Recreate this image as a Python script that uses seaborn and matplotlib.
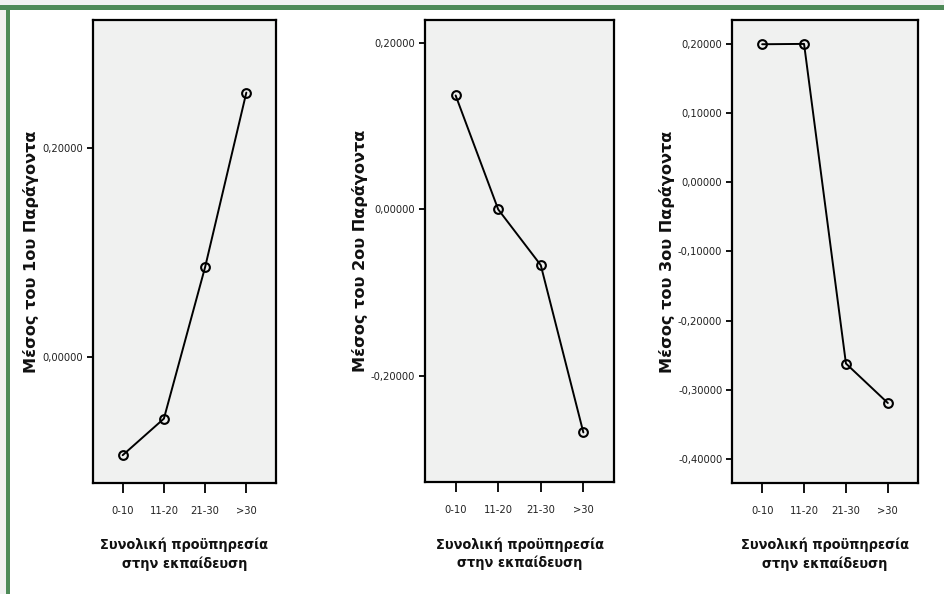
import matplotlib
matplotlib.use("Agg")
import matplotlib.pyplot as plt
from matplotlib.patches import Rectangle
from matplotlib.ticker import FixedLocator, FuncFormatter
import seaborn as sns
import pandas as pd

# Mean factor scores by total teaching experience
groups = ["0-10", "11-20", "21-30", ">30"]
factor1 = [-0.094, -0.059, 0.086, 0.253]
factor2 = [0.137, 0.000, -0.067, -0.268]
factor3 = [0.199, 0.1995, -0.262, -0.319]

ylabels = ["Μέσος του 1ου Παράγοντα", "Μέσος του 2ου Παράγοντα", "Μέσος του 3ου Παράγοντα"]
xlabel = "Συνολική προϋπηρεσία\nστην εκπαίδευση"
yticks = [
    [0.0, 0.2],
    [-0.2, 0.0, 0.2],
    [-0.4, -0.3, -0.2, -0.1, 0.0, 0.1, 0.2],
]
ylims = [(-0.1206, 0.3225), (-0.3276, 0.2277), (-0.4345, 0.234)]

sns.set_theme(style="white")
plt.rcParams["font.family"] = ["DejaVu Sans"]

W, H = 944, 594
fig = plt.figure(figsize=(W / 100, H / 100), dpi=100)
fig.patch.set_facecolor("white")

# frame: faint shadow plus green top/left border
fig.add_artist(Rectangle((0, 1 - 5 / H), 1, 5 / H, transform=fig.transFigure,
                         facecolor="#f1f1f1", edgecolor="none", zorder=0))
fig.add_artist(Rectangle((0, 0), 6 / W, 1, transform=fig.transFigure,
                         facecolor="#f1f1f1", edgecolor="none", zorder=0))
fig.add_artist(Rectangle((0, 1 - 9.5 / H), 1, 4.5 / H, transform=fig.transFigure,
                         facecolor="#4e8a58", edgecolor="none", zorder=1))
fig.add_artist(Rectangle((6 / W, 0), 4 / W, 1 - 5 / H, transform=fig.transFigure,
                         facecolor="#4e8a58", edgecolor="none", zorder=1))

# axes boxes in pixels: left, right, top, bottom
boxes = [(93, 276, 20, 483), (425, 614, 20, 482), (732, 918, 20, 483)]
ylabel_gap = [54, 57, 57]
series = [factor1, factor2, factor3]

narrow = ["Liberation Sans Narrow", "DejaVu Sans"]

for i, ((l, r, t, b), vals) in enumerate(zip(boxes, series)):
    ax = fig.add_axes([l / W, 1 - b / H, (r - l) / W, (b - t) / H])
    ax.set_facecolor("#f0f1f0")
    df = pd.DataFrame({"group": groups, "value": vals})
    sns.lineplot(data=df, x="group", y="value", ax=ax, color="black", linewidth=1.4,
                 marker="o", markersize=6.3, markerfacecolor="none",
                 markeredgecolor="black", markeredgewidth=1.5)
    ax.set_xlim(-0.72, 3.72)
    ax.set_ylim(*ylims[i])
    ax.yaxis.set_major_locator(FixedLocator(yticks[i]))
    ax.yaxis.set_major_formatter(FuncFormatter(lambda v, p: f"{v:.5f}".replace(".", ",").replace("-0,00000", "0,00000")))
    for s in ax.spines.values():
        s.set_color("black")
        s.set_linewidth(1.6)
    ax.tick_params(axis="y", direction="out", length=4, width=1.3, pad=3,
                   left=True, colors="black", labelcolor="#222222")
    ax.tick_params(axis="x", direction="out", length=7, width=1.3, pad=9.5,
                   bottom=True, colors="black", labelcolor="#222222")
    for lab in ax.get_yticklabels() + ax.get_xticklabels():
        lab.set_family(narrow)
        lab.set_fontstretch("condensed")
        lab.set_fontsize(8)
    ax.set_ylabel(ylabels[i], fontsize=11.6, fontweight="bold", color="#111111")
    ax.yaxis.set_label_coords(-ylabel_gap[i] / (r - l), 0.5)
    ax.set_xlabel(xlabel, fontsize=10.4, fontweight="bold", color="#111111",
                  family=narrow, fontstretch="condensed", linespacing=1.35)
    ax.xaxis.set_label_coords(0.5, -55 / (b - t))

fig.savefig("out.png", dpi=100, facecolor="white")
